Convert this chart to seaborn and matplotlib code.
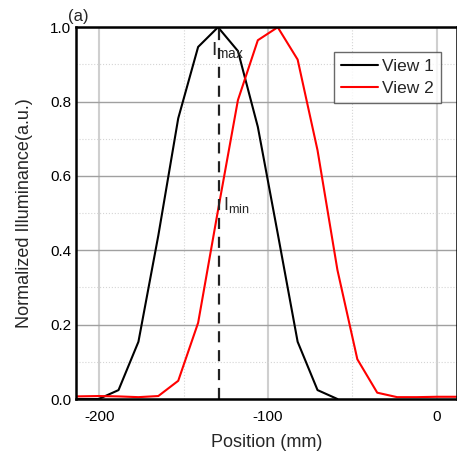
import numpy as np
import pandas as pd
import matplotlib
matplotlib.use("Agg")
import matplotlib.pyplot as plt
from matplotlib.ticker import MultipleLocator
import seaborn as sns

# données
pos_view1 = [-214, -200.5, -188.7, -176.9, -165.1, -153.3, -141.5, -129.7,
             -117.9, -106.1, -94.3, -82.5, -70.7, -58.9]
lum_view1 = [0.0, 0.0, 0.024, 0.154, 0.44, 0.755, 0.947, 1.0,
             0.936, 0.732, 0.445, 0.154, 0.024, 0.0]

pos_view2 = [-214, -200.5, -188.7, -176.9, -165.1, -153.3, -141.5, -129.7,
             -117.9, -106.1, -94.3, -82.5, -70.7, -58.9, -47.1, -35.3,
             -23.5, -11.7, 0.1, 11.9, 14]
lum_view2 = [0.007, 0.008, 0.007, 0.005, 0.008, 0.049, 0.205, 0.508,
             0.804, 0.965, 1.0, 0.913, 0.669, 0.347, 0.107, 0.017,
             0.005, 0.005, 0.006, 0.006, 0.006]

x_dash = -129.3

df = pd.concat([
    pd.DataFrame({"Position": pos_view1, "Lum": lum_view1, "Vue": "View 1"}),
    pd.DataFrame({"Position": pos_view2, "Lum": lum_view2, "Vue": "View 2"}),
])

sns.set_style("white")
plt.rcParams["font.family"] = ["Liberation Sans", "DejaVu Sans"]
plt.rcParams["axes.unicode_minus"] = False

fig = plt.figure(figsize=(4.57, 4.59), dpi=100)
ax = fig.add_axes([0.166, 0.1307, 0.834, 0.810])

sns.lineplot(data=df, x="Position", y="Lum", hue="Vue", sort=False,
             palette={"View 1": "black", "View 2": "#ff0000"},
             linewidth=1.5, estimator=None, ax=ax)

# ligne pointillée verticale
ax.plot([x_dash, x_dash], [0, 1], color="#222222", linestyle=(0, (5, 3.5)), lw=1.6)

ax.set_xlim(-214, 12)
ax.set_ylim(0, 1)
ax.xaxis.set_major_locator(MultipleLocator(100))
ax.xaxis.set_minor_locator(MultipleLocator(50))
ax.yaxis.set_major_locator(MultipleLocator(0.2))
ax.yaxis.set_minor_locator(MultipleLocator(0.1))
ax.yaxis.set_major_formatter(plt.FormatStrFormatter("%.1f"))

ax.xaxis.grid(True, which="major", color="#cfcfcf", lw=1.5)
ax.yaxis.grid(True, which="major", color="#a0a0a0", lw=1)
ax.grid(True, which="minor", color="#d5d5d5", linestyle=":", lw=0.8)
ax.set_axisbelow(True)

ax.tick_params(which="both", direction="in", labelsize=11, colors="black")
ax.tick_params(which="major", length=6, width=1)
ax.tick_params(which="minor", length=4, width=1)
ax.tick_params(axis="x", pad=8)
for s in ax.spines.values():
    s.set_color("black")
    s.set_linewidth(1.8)

ax.set_xlabel("Position (mm)", fontsize=13, labelpad=7)
ax.set_ylabel("Normalized Illuminance(a.u.)", fontsize=13, labelpad=12)

# annotations I max / I min
ax.text(-134.0, 0.925, r"$\mathregular{I_{max}}$", fontsize=14, va="baseline")
ax.text(-126.6, 0.508, r"$\mathregular{I_{min}}$", fontsize=13, va="baseline")
fig.text(0.148, 0.955, "(a)", fontsize=12)

leg = ax.legend(loc="upper right", bbox_to_anchor=(0.958, 0.933), fontsize=12.5,
                frameon=True, fancybox=False, edgecolor="#444444",
                handlelength=2.1, handletextpad=0.25, borderpad=0.4,
                labelspacing=0.4, borderaxespad=0)
leg.get_frame().set_linewidth(1)

fig.savefig("out.png", dpi=100)
